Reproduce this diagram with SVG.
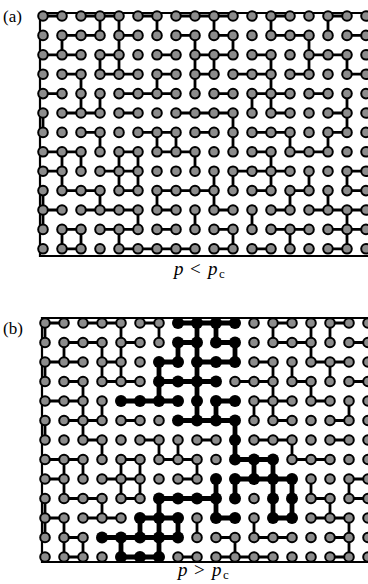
<svg xmlns="http://www.w3.org/2000/svg" xmlns:xlink="http://www.w3.org/1999/xlink" width="368" height="584" viewBox="0 0 368 584">
<style>
.frame{fill:none;stroke:#000;stroke-width:2.2}
.bond{fill:none;stroke:#000;stroke-width:2.8}
.bold{fill:none;stroke:#000;stroke-width:4.8;stroke-linecap:round}
.gn{fill:#8c8c8c;stroke:#000;stroke-width:2}
.lab{font-family:"Liberation Serif","Times New Roman",serif;fill:#000}
</style>
<defs>
<circle id="g" r="4.8" class="gn"/>
<circle id="k" r="6" fill="#000"/>
</defs>
<rect width="368" height="584" fill="#fff"/>
<text class="lab" x="3" y="22" font-size="17">(a)</text>
<text class="lab" x="3" y="334" font-size="17">(b)</text>
<text class="lab" font-size="19" y="275"><tspan x="174" font-style="italic">p</tspan><tspan x="190">&lt;</tspan><tspan x="208" font-style="italic">p</tspan><tspan x="219" dy="3" font-size="13">c</tspan></text>
<text class="lab" font-size="19" y="576"><tspan x="178" font-style="italic">p</tspan><tspan x="194">&gt;</tspan><tspan x="212" font-style="italic">p</tspan><tspan x="223" dy="3" font-size="13">c</tspan></text>

<g id="panel-a" transform="translate(43,16)">
<path class="frame" d="M330 -3H-3V240H330"/>
<g id="connectors-a">
<path class="bond" d="M0 0h19M38 0h38M95 0h19M133 0h57M228 0h19M285 0h19M19 19.4h38M76 19.4h19M133 19.4h19M171 19.4h19M228 19.4h38M304 19.4h19M0 38.8h38M57 38.8h19M114 38.8h19M152 38.8h38M209 38.8h19M266 38.8h38M19 58.2h19M57 58.2h38M114 58.2h19M152 58.2h19M190 58.2h38M247 58.2h19M304 58.2h19M0 77.6h19M76 77.6h57M171 77.6h19M209 77.6h38M266 77.6h19M19 97h38M76 97h19M133 97h57M228 97h19M285 97h19M38 116.4h19M95 116.4h38M152 116.4h19M209 116.4h38M285 116.4h19M0 135.8h38M76 135.8h19M114 135.8h38M209 135.8h19M247 135.8h38M0 155.2h19M57 155.2h38M190 155.2h57M304 155.2h19M19 174.6h38M76 174.6h19M114 174.6h57M209 174.6h19M247 174.6h19M304 174.6h19M0 194h19M38 194h57M114 194h19M171 194h19M228 194h19M266 194h57M19 213.4h19M57 213.4h38M114 213.4h19M171 213.4h19M228 213.4h38M285 213.4h38M19 232.8h19M76 232.8h76M171 232.8h19M209 232.8h19M285 232.8h19"/>
<path class="bond" d="M57 0v19.4M76 0v19.4M114 0v19.4M171 0v19.4M228 0v19.4M285 0v19.4M19 19.4v19.4M76 19.4v19.4M152 19.4v19.4M190 19.4v19.4M266 19.4v19.4M57 38.8v19.4M76 38.8v19.4M152 38.8v19.4M171 38.8v19.4M228 38.8v19.4M266 38.8v19.4M304 38.8v19.4M38 58.2v19.4M114 58.2v19.4M152 58.2v19.4M228 58.2v19.4M38 77.6v19.4M57 77.6v19.4M209 77.6v19.4M228 77.6v19.4M304 77.6v19.4M0 97v19.4M190 97v19.4M304 97v19.4M57 116.4v19.4M114 116.4v19.4M133 116.4v19.4M190 116.4v19.4M247 116.4v19.4M285 116.4v19.4M19 135.8v19.4M38 135.8v19.4M76 135.8v19.4M95 135.8v19.4M152 135.8v19.4M228 135.8v19.4M19 155.2v19.4M76 155.2v19.4M95 155.2v19.4M171 155.2v19.4M190 155.2v19.4M228 155.2v19.4M266 155.2v19.4M304 155.2v19.4M0 174.6v19.4M57 174.6v19.4M114 174.6v19.4M171 174.6v19.4M247 174.6v19.4M285 174.6v19.4M0 194v19.4M95 194v19.4M152 194v19.4M209 194v19.4M304 194v19.4M19 213.4v19.4M38 213.4v19.4M76 213.4v19.4M190 213.4v19.4M247 213.4v19.4M304 213.4v19.4"/>
</g>
<g id="nodes-a">
<use id="a0c0" href="#g" x="0" y="0"/><use id="a0c1" href="#g" x="19" y="0"/><use id="a0c2" href="#g" x="38" y="0"/><use id="a0c3" href="#g" x="57" y="0"/><use id="a0c4" href="#g" x="76" y="0"/><use id="a0c5" href="#g" x="95" y="0"/><use id="a0c6" href="#g" x="114" y="0"/><use id="a0c7" href="#g" x="133" y="0"/><use id="a0c8" href="#g" x="152" y="0"/><use id="a0c9" href="#g" x="171" y="0"/><use id="a0c10" href="#g" x="190" y="0"/><use id="a0c11" href="#g" x="209" y="0"/><use id="a0c12" href="#g" x="228" y="0"/><use id="a0c13" href="#g" x="247" y="0"/><use id="a0c14" href="#g" x="266" y="0"/><use id="a0c15" href="#g" x="285" y="0"/><use id="a0c16" href="#g" x="304" y="0"/><use id="a0c17" href="#g" x="323" y="0"/>
<use id="a1c0" href="#g" x="0" y="19.4"/><use id="a1c1" href="#g" x="19" y="19.4"/><use id="a1c2" href="#g" x="38" y="19.4"/><use id="a1c3" href="#g" x="57" y="19.4"/><use id="a1c4" href="#g" x="76" y="19.4"/><use id="a1c5" href="#g" x="95" y="19.4"/><use id="a1c6" href="#g" x="114" y="19.4"/><use id="a1c7" href="#g" x="133" y="19.4"/><use id="a1c8" href="#g" x="152" y="19.4"/><use id="a1c9" href="#g" x="171" y="19.4"/><use id="a1c10" href="#g" x="190" y="19.4"/><use id="a1c11" href="#g" x="209" y="19.4"/><use id="a1c12" href="#g" x="228" y="19.4"/><use id="a1c13" href="#g" x="247" y="19.4"/><use id="a1c14" href="#g" x="266" y="19.4"/><use id="a1c15" href="#g" x="285" y="19.4"/><use id="a1c16" href="#g" x="304" y="19.4"/><use id="a1c17" href="#g" x="323" y="19.4"/>
<use id="a2c0" href="#g" x="0" y="38.8"/><use id="a2c1" href="#g" x="19" y="38.8"/><use id="a2c2" href="#g" x="38" y="38.8"/><use id="a2c3" href="#g" x="57" y="38.8"/><use id="a2c4" href="#g" x="76" y="38.8"/><use id="a2c5" href="#g" x="95" y="38.8"/><use id="a2c6" href="#g" x="114" y="38.8"/><use id="a2c7" href="#g" x="133" y="38.8"/><use id="a2c8" href="#g" x="152" y="38.8"/><use id="a2c9" href="#g" x="171" y="38.8"/><use id="a2c10" href="#g" x="190" y="38.8"/><use id="a2c11" href="#g" x="209" y="38.8"/><use id="a2c12" href="#g" x="228" y="38.8"/><use id="a2c13" href="#g" x="247" y="38.8"/><use id="a2c14" href="#g" x="266" y="38.8"/><use id="a2c15" href="#g" x="285" y="38.8"/><use id="a2c16" href="#g" x="304" y="38.8"/><use id="a2c17" href="#g" x="323" y="38.8"/>
<use id="a3c0" href="#g" x="0" y="58.2"/><use id="a3c1" href="#g" x="19" y="58.2"/><use id="a3c2" href="#g" x="38" y="58.2"/><use id="a3c3" href="#g" x="57" y="58.2"/><use id="a3c4" href="#g" x="76" y="58.2"/><use id="a3c5" href="#g" x="95" y="58.2"/><use id="a3c6" href="#g" x="114" y="58.2"/><use id="a3c7" href="#g" x="133" y="58.2"/><use id="a3c8" href="#g" x="152" y="58.2"/><use id="a3c9" href="#g" x="171" y="58.2"/><use id="a3c10" href="#g" x="190" y="58.2"/><use id="a3c11" href="#g" x="209" y="58.2"/><use id="a3c12" href="#g" x="228" y="58.2"/><use id="a3c13" href="#g" x="247" y="58.2"/><use id="a3c14" href="#g" x="266" y="58.2"/><use id="a3c15" href="#g" x="285" y="58.2"/><use id="a3c16" href="#g" x="304" y="58.2"/><use id="a3c17" href="#g" x="323" y="58.2"/>
<use id="a4c0" href="#g" x="0" y="77.6"/><use id="a4c1" href="#g" x="19" y="77.6"/><use id="a4c2" href="#g" x="38" y="77.6"/><use id="a4c3" href="#g" x="57" y="77.6"/><use id="a4c4" href="#g" x="76" y="77.6"/><use id="a4c5" href="#g" x="95" y="77.6"/><use id="a4c6" href="#g" x="114" y="77.6"/><use id="a4c7" href="#g" x="133" y="77.6"/><use id="a4c8" href="#g" x="152" y="77.6"/><use id="a4c9" href="#g" x="171" y="77.6"/><use id="a4c10" href="#g" x="190" y="77.6"/><use id="a4c11" href="#g" x="209" y="77.6"/><use id="a4c12" href="#g" x="228" y="77.6"/><use id="a4c13" href="#g" x="247" y="77.6"/><use id="a4c14" href="#g" x="266" y="77.6"/><use id="a4c15" href="#g" x="285" y="77.6"/><use id="a4c16" href="#g" x="304" y="77.6"/><use id="a4c17" href="#g" x="323" y="77.6"/>
<use id="a5c0" href="#g" x="0" y="97"/><use id="a5c1" href="#g" x="19" y="97"/><use id="a5c2" href="#g" x="38" y="97"/><use id="a5c3" href="#g" x="57" y="97"/><use id="a5c4" href="#g" x="76" y="97"/><use id="a5c5" href="#g" x="95" y="97"/><use id="a5c6" href="#g" x="114" y="97"/><use id="a5c7" href="#g" x="133" y="97"/><use id="a5c8" href="#g" x="152" y="97"/><use id="a5c9" href="#g" x="171" y="97"/><use id="a5c10" href="#g" x="190" y="97"/><use id="a5c11" href="#g" x="209" y="97"/><use id="a5c12" href="#g" x="228" y="97"/><use id="a5c13" href="#g" x="247" y="97"/><use id="a5c14" href="#g" x="266" y="97"/><use id="a5c15" href="#g" x="285" y="97"/><use id="a5c16" href="#g" x="304" y="97"/><use id="a5c17" href="#g" x="323" y="97"/>
<use id="a6c0" href="#g" x="0" y="116.4"/><use id="a6c1" href="#g" x="19" y="116.4"/><use id="a6c2" href="#g" x="38" y="116.4"/><use id="a6c3" href="#g" x="57" y="116.4"/><use id="a6c4" href="#g" x="76" y="116.4"/><use id="a6c5" href="#g" x="95" y="116.4"/><use id="a6c6" href="#g" x="114" y="116.4"/><use id="a6c7" href="#g" x="133" y="116.4"/><use id="a6c8" href="#g" x="152" y="116.4"/><use id="a6c9" href="#g" x="171" y="116.4"/><use id="a6c10" href="#g" x="190" y="116.4"/><use id="a6c11" href="#g" x="209" y="116.4"/><use id="a6c12" href="#g" x="228" y="116.4"/><use id="a6c13" href="#g" x="247" y="116.4"/><use id="a6c14" href="#g" x="266" y="116.4"/><use id="a6c15" href="#g" x="285" y="116.4"/><use id="a6c16" href="#g" x="304" y="116.4"/><use id="a6c17" href="#g" x="323" y="116.4"/>
<use id="a7c0" href="#g" x="0" y="135.8"/><use id="a7c1" href="#g" x="19" y="135.8"/><use id="a7c2" href="#g" x="38" y="135.8"/><use id="a7c3" href="#g" x="57" y="135.8"/><use id="a7c4" href="#g" x="76" y="135.8"/><use id="a7c5" href="#g" x="95" y="135.8"/><use id="a7c6" href="#g" x="114" y="135.8"/><use id="a7c7" href="#g" x="133" y="135.8"/><use id="a7c8" href="#g" x="152" y="135.8"/><use id="a7c9" href="#g" x="171" y="135.8"/><use id="a7c10" href="#g" x="190" y="135.8"/><use id="a7c11" href="#g" x="209" y="135.8"/><use id="a7c12" href="#g" x="228" y="135.8"/><use id="a7c13" href="#g" x="247" y="135.8"/><use id="a7c14" href="#g" x="266" y="135.8"/><use id="a7c15" href="#g" x="285" y="135.8"/><use id="a7c16" href="#g" x="304" y="135.8"/><use id="a7c17" href="#g" x="323" y="135.8"/>
<use id="a8c0" href="#g" x="0" y="155.2"/><use id="a8c1" href="#g" x="19" y="155.2"/><use id="a8c2" href="#g" x="38" y="155.2"/><use id="a8c3" href="#g" x="57" y="155.2"/><use id="a8c4" href="#g" x="76" y="155.2"/><use id="a8c5" href="#g" x="95" y="155.2"/><use id="a8c6" href="#g" x="114" y="155.2"/><use id="a8c7" href="#g" x="133" y="155.2"/><use id="a8c8" href="#g" x="152" y="155.2"/><use id="a8c9" href="#g" x="171" y="155.2"/><use id="a8c10" href="#g" x="190" y="155.2"/><use id="a8c11" href="#g" x="209" y="155.2"/><use id="a8c12" href="#g" x="228" y="155.2"/><use id="a8c13" href="#g" x="247" y="155.2"/><use id="a8c14" href="#g" x="266" y="155.2"/><use id="a8c15" href="#g" x="285" y="155.2"/><use id="a8c16" href="#g" x="304" y="155.2"/><use id="a8c17" href="#g" x="323" y="155.2"/>
<use id="a9c0" href="#g" x="0" y="174.6"/><use id="a9c1" href="#g" x="19" y="174.6"/><use id="a9c2" href="#g" x="38" y="174.6"/><use id="a9c3" href="#g" x="57" y="174.6"/><use id="a9c4" href="#g" x="76" y="174.6"/><use id="a9c5" href="#g" x="95" y="174.6"/><use id="a9c6" href="#g" x="114" y="174.6"/><use id="a9c7" href="#g" x="133" y="174.6"/><use id="a9c8" href="#g" x="152" y="174.6"/><use id="a9c9" href="#g" x="171" y="174.6"/><use id="a9c10" href="#g" x="190" y="174.6"/><use id="a9c11" href="#g" x="209" y="174.6"/><use id="a9c12" href="#g" x="228" y="174.6"/><use id="a9c13" href="#g" x="247" y="174.6"/><use id="a9c14" href="#g" x="266" y="174.6"/><use id="a9c15" href="#g" x="285" y="174.6"/><use id="a9c16" href="#g" x="304" y="174.6"/><use id="a9c17" href="#g" x="323" y="174.6"/>
<use id="a10c0" href="#g" x="0" y="194"/><use id="a10c1" href="#g" x="19" y="194"/><use id="a10c2" href="#g" x="38" y="194"/><use id="a10c3" href="#g" x="57" y="194"/><use id="a10c4" href="#g" x="76" y="194"/><use id="a10c5" href="#g" x="95" y="194"/><use id="a10c6" href="#g" x="114" y="194"/><use id="a10c7" href="#g" x="133" y="194"/><use id="a10c8" href="#g" x="152" y="194"/><use id="a10c9" href="#g" x="171" y="194"/><use id="a10c10" href="#g" x="190" y="194"/><use id="a10c11" href="#g" x="209" y="194"/><use id="a10c12" href="#g" x="228" y="194"/><use id="a10c13" href="#g" x="247" y="194"/><use id="a10c14" href="#g" x="266" y="194"/><use id="a10c15" href="#g" x="285" y="194"/><use id="a10c16" href="#g" x="304" y="194"/><use id="a10c17" href="#g" x="323" y="194"/>
<use id="a11c0" href="#g" x="0" y="213.4"/><use id="a11c1" href="#g" x="19" y="213.4"/><use id="a11c2" href="#g" x="38" y="213.4"/><use id="a11c3" href="#g" x="57" y="213.4"/><use id="a11c4" href="#g" x="76" y="213.4"/><use id="a11c5" href="#g" x="95" y="213.4"/><use id="a11c6" href="#g" x="114" y="213.4"/><use id="a11c7" href="#g" x="133" y="213.4"/><use id="a11c8" href="#g" x="152" y="213.4"/><use id="a11c9" href="#g" x="171" y="213.4"/><use id="a11c10" href="#g" x="190" y="213.4"/><use id="a11c11" href="#g" x="209" y="213.4"/><use id="a11c12" href="#g" x="228" y="213.4"/><use id="a11c13" href="#g" x="247" y="213.4"/><use id="a11c14" href="#g" x="266" y="213.4"/><use id="a11c15" href="#g" x="285" y="213.4"/><use id="a11c16" href="#g" x="304" y="213.4"/><use id="a11c17" href="#g" x="323" y="213.4"/>
<use id="a12c0" href="#g" x="0" y="232.8"/><use id="a12c1" href="#g" x="19" y="232.8"/><use id="a12c2" href="#g" x="38" y="232.8"/><use id="a12c3" href="#g" x="57" y="232.8"/><use id="a12c4" href="#g" x="76" y="232.8"/><use id="a12c5" href="#g" x="95" y="232.8"/><use id="a12c6" href="#g" x="114" y="232.8"/><use id="a12c7" href="#g" x="133" y="232.8"/><use id="a12c8" href="#g" x="152" y="232.8"/><use id="a12c9" href="#g" x="171" y="232.8"/><use id="a12c10" href="#g" x="190" y="232.8"/><use id="a12c11" href="#g" x="209" y="232.8"/><use id="a12c12" href="#g" x="228" y="232.8"/><use id="a12c13" href="#g" x="247" y="232.8"/><use id="a12c14" href="#g" x="266" y="232.8"/><use id="a12c15" href="#g" x="285" y="232.8"/><use id="a12c16" href="#g" x="304" y="232.8"/><use id="a12c17" href="#g" x="323" y="232.8"/>
</g>
</g>

<g id="panel-b" transform="translate(45,323)">
<path class="frame" d="M330 -5H-3V239H330"/>
<g id="connectors-b">
<path class="bond" d="M0 0h19M38 0h38M95 0h19M228 0h19M285 0h19M19 19.5h38M76 19.5h19M228 19.5h38M304 19.5h19M0 39h38M57 39h19M209 39h19M266 39h38M19 58.5h19M57 58.5h38M190 58.5h38M247 58.5h19M304 58.5h19M0 78h38M209 78h38M266 78h19M19 97.5h38M76 97.5h19M228 97.5h19M285 97.5h19M38 117h19M95 117h19M152 117h19M209 117h38M285 117h19M0 136.5h38M76 136.5h19M114 136.5h38M247 136.5h38M0 156h19M57 156h38M133 156h19M304 156h19M19 175.5h38M76 175.5h19M266 175.5h19M304 175.5h19M0 195h19M38 195h38M266 195h38M19 214.5h19M171 214.5h19M209 214.5h38M285 214.5h19M19 234h19M133 234h19M171 234h57M285 234h19"/>
<path class="bond" d="M0 0v19.5M76 0v19.5M114 0v19.5M228 0v19.5M266 0v19.5M285 0v19.5M19 19.5v19.5M57 19.5v19.5M76 19.5v19.5M266 19.5v19.5M0 39v19.5M57 39v19.5M76 39v19.5M228 39v19.5M247 39v19.5M285 39v19.5M38 58.5v19.5M228 58.5v19.5M266 58.5v19.5M38 78v19.5M57 78v19.5M209 78v19.5M228 78v19.5M304 78v19.5M0 97.5v19.5M38 97.5v19.5M57 117v19.5M114 117v19.5M133 117v19.5M247 117v19.5M19 136.5v19.5M38 136.5v19.5M76 136.5v19.5M95 136.5v19.5M152 136.5v19.5M19 156v19.5M76 156v19.5M95 156v19.5M266 156v19.5M304 156v19.5M0 175.5v19.5M57 175.5v19.5M285 175.5v19.5M0 195v19.5M19 195v19.5M152 195v19.5M209 195v19.5M304 195v19.5M19 214.5v19.5M38 214.5v19.5M190 214.5v19.5M304 214.5v19.5"/>
<path class="bold" d="M133 0h57M133 19.5h19M171 19.5h19M114 39h19M152 39h38M114 58.5h57M76 78h57M171 78h19M133 97.5h57M190 136.5h38M190 156h57M114 175.5h57M95 195h38M171 195h19M228 195h19M57 214.5h76M76 234h38M152 0v97.5M171 0v19.5M171 78v19.5M133 19.5v19.5M190 19.5v19.5M114 39v39M190 97.5v39M190 156v19.5M209 136.5v19.5M228 136.5v58.5M247 156v39M171 156v39M114 175.5v58.5M133 195v19.5M95 195v19.5M76 214.5v19.5"/>
</g>
<g id="nodes-b">
<use id="b0c0" href="#g" x="0" y="0"/><use id="b0c1" href="#g" x="19" y="0"/><use id="b0c2" href="#g" x="38" y="0"/><use id="b0c3" href="#g" x="57" y="0"/><use id="b0c4" href="#g" x="76" y="0"/><use id="b0c5" href="#g" x="95" y="0"/><use id="b0c6" href="#g" x="114" y="0"/><use id="b0c7" href="#k" x="133" y="0"/><use id="b0c8" href="#k" x="152" y="0"/><use id="b0c9" href="#k" x="171" y="0"/><use id="b0c10" href="#k" x="190" y="0"/><use id="b0c11" href="#g" x="209" y="0"/><use id="b0c12" href="#g" x="228" y="0"/><use id="b0c13" href="#g" x="247" y="0"/><use id="b0c14" href="#g" x="266" y="0"/><use id="b0c15" href="#g" x="285" y="0"/><use id="b0c16" href="#g" x="304" y="0"/><use id="b0c17" href="#g" x="323" y="0"/>
<use id="b1c0" href="#g" x="0" y="19.5"/><use id="b1c1" href="#g" x="19" y="19.5"/><use id="b1c2" href="#g" x="38" y="19.5"/><use id="b1c3" href="#g" x="57" y="19.5"/><use id="b1c4" href="#g" x="76" y="19.5"/><use id="b1c5" href="#g" x="95" y="19.5"/><use id="b1c6" href="#g" x="114" y="19.5"/><use id="b1c7" href="#k" x="133" y="19.5"/><use id="b1c8" href="#k" x="152" y="19.5"/><use id="b1c9" href="#k" x="171" y="19.5"/><use id="b1c10" href="#k" x="190" y="19.5"/><use id="b1c11" href="#g" x="209" y="19.5"/><use id="b1c12" href="#g" x="228" y="19.5"/><use id="b1c13" href="#g" x="247" y="19.5"/><use id="b1c14" href="#g" x="266" y="19.5"/><use id="b1c15" href="#g" x="285" y="19.5"/><use id="b1c16" href="#g" x="304" y="19.5"/><use id="b1c17" href="#g" x="323" y="19.5"/>
<use id="b2c0" href="#g" x="0" y="39"/><use id="b2c1" href="#g" x="19" y="39"/><use id="b2c2" href="#g" x="38" y="39"/><use id="b2c3" href="#g" x="57" y="39"/><use id="b2c4" href="#g" x="76" y="39"/><use id="b2c5" href="#g" x="95" y="39"/><use id="b2c6" href="#k" x="114" y="39"/><use id="b2c7" href="#k" x="133" y="39"/><use id="b2c8" href="#k" x="152" y="39"/><use id="b2c9" href="#k" x="171" y="39"/><use id="b2c10" href="#k" x="190" y="39"/><use id="b2c11" href="#g" x="209" y="39"/><use id="b2c12" href="#g" x="228" y="39"/><use id="b2c13" href="#g" x="247" y="39"/><use id="b2c14" href="#g" x="266" y="39"/><use id="b2c15" href="#g" x="285" y="39"/><use id="b2c16" href="#g" x="304" y="39"/><use id="b2c17" href="#g" x="323" y="39"/>
<use id="b3c0" href="#g" x="0" y="58.5"/><use id="b3c1" href="#g" x="19" y="58.5"/><use id="b3c2" href="#g" x="38" y="58.5"/><use id="b3c3" href="#g" x="57" y="58.5"/><use id="b3c4" href="#g" x="76" y="58.5"/><use id="b3c5" href="#g" x="95" y="58.5"/><use id="b3c6" href="#k" x="114" y="58.5"/><use id="b3c7" href="#k" x="133" y="58.5"/><use id="b3c8" href="#k" x="152" y="58.5"/><use id="b3c9" href="#k" x="171" y="58.5"/><use id="b3c10" href="#g" x="190" y="58.5"/><use id="b3c11" href="#g" x="209" y="58.5"/><use id="b3c12" href="#g" x="228" y="58.5"/><use id="b3c13" href="#g" x="247" y="58.5"/><use id="b3c14" href="#g" x="266" y="58.5"/><use id="b3c15" href="#g" x="285" y="58.5"/><use id="b3c16" href="#g" x="304" y="58.5"/><use id="b3c17" href="#g" x="323" y="58.5"/>
<use id="b4c0" href="#g" x="0" y="78"/><use id="b4c1" href="#g" x="19" y="78"/><use id="b4c2" href="#g" x="38" y="78"/><use id="b4c3" href="#g" x="57" y="78"/><use id="b4c4" href="#k" x="76" y="78"/><use id="b4c5" href="#k" x="95" y="78"/><use id="b4c6" href="#k" x="114" y="78"/><use id="b4c7" href="#k" x="133" y="78"/><use id="b4c8" href="#k" x="152" y="78"/><use id="b4c9" href="#k" x="171" y="78"/><use id="b4c10" href="#k" x="190" y="78"/><use id="b4c11" href="#g" x="209" y="78"/><use id="b4c12" href="#g" x="228" y="78"/><use id="b4c13" href="#g" x="247" y="78"/><use id="b4c14" href="#g" x="266" y="78"/><use id="b4c15" href="#g" x="285" y="78"/><use id="b4c16" href="#g" x="304" y="78"/><use id="b4c17" href="#g" x="323" y="78"/>
<use id="b5c0" href="#g" x="0" y="97.5"/><use id="b5c1" href="#g" x="19" y="97.5"/><use id="b5c2" href="#g" x="38" y="97.5"/><use id="b5c3" href="#g" x="57" y="97.5"/><use id="b5c4" href="#g" x="76" y="97.5"/><use id="b5c5" href="#g" x="95" y="97.5"/><use id="b5c6" href="#g" x="114" y="97.5"/><use id="b5c7" href="#k" x="133" y="97.5"/><use id="b5c8" href="#k" x="152" y="97.5"/><use id="b5c9" href="#k" x="171" y="97.5"/><use id="b5c10" href="#k" x="190" y="97.5"/><use id="b5c11" href="#g" x="209" y="97.5"/><use id="b5c12" href="#g" x="228" y="97.5"/><use id="b5c13" href="#g" x="247" y="97.5"/><use id="b5c14" href="#g" x="266" y="97.5"/><use id="b5c15" href="#g" x="285" y="97.5"/><use id="b5c16" href="#g" x="304" y="97.5"/><use id="b5c17" href="#g" x="323" y="97.5"/>
<use id="b6c0" href="#g" x="0" y="117"/><use id="b6c1" href="#g" x="19" y="117"/><use id="b6c2" href="#g" x="38" y="117"/><use id="b6c3" href="#g" x="57" y="117"/><use id="b6c4" href="#g" x="76" y="117"/><use id="b6c5" href="#g" x="95" y="117"/><use id="b6c6" href="#g" x="114" y="117"/><use id="b6c7" href="#g" x="133" y="117"/><use id="b6c8" href="#g" x="152" y="117"/><use id="b6c9" href="#g" x="171" y="117"/><use id="b6c10" href="#k" x="190" y="117"/><use id="b6c11" href="#g" x="209" y="117"/><use id="b6c12" href="#g" x="228" y="117"/><use id="b6c13" href="#g" x="247" y="117"/><use id="b6c14" href="#g" x="266" y="117"/><use id="b6c15" href="#g" x="285" y="117"/><use id="b6c16" href="#g" x="304" y="117"/><use id="b6c17" href="#g" x="323" y="117"/>
<use id="b7c0" href="#g" x="0" y="136.5"/><use id="b7c1" href="#g" x="19" y="136.5"/><use id="b7c2" href="#g" x="38" y="136.5"/><use id="b7c3" href="#g" x="57" y="136.5"/><use id="b7c4" href="#g" x="76" y="136.5"/><use id="b7c5" href="#g" x="95" y="136.5"/><use id="b7c6" href="#g" x="114" y="136.5"/><use id="b7c7" href="#g" x="133" y="136.5"/><use id="b7c8" href="#g" x="152" y="136.5"/><use id="b7c9" href="#g" x="171" y="136.5"/><use id="b7c10" href="#k" x="190" y="136.5"/><use id="b7c11" href="#k" x="209" y="136.5"/><use id="b7c12" href="#k" x="228" y="136.5"/><use id="b7c13" href="#g" x="247" y="136.5"/><use id="b7c14" href="#g" x="266" y="136.5"/><use id="b7c15" href="#g" x="285" y="136.5"/><use id="b7c16" href="#g" x="304" y="136.5"/><use id="b7c17" href="#g" x="323" y="136.5"/>
<use id="b8c0" href="#g" x="0" y="156"/><use id="b8c1" href="#g" x="19" y="156"/><use id="b8c2" href="#g" x="38" y="156"/><use id="b8c3" href="#g" x="57" y="156"/><use id="b8c4" href="#g" x="76" y="156"/><use id="b8c5" href="#g" x="95" y="156"/><use id="b8c6" href="#g" x="114" y="156"/><use id="b8c7" href="#g" x="133" y="156"/><use id="b8c8" href="#g" x="152" y="156"/><use id="b8c9" href="#k" x="171" y="156"/><use id="b8c10" href="#k" x="190" y="156"/><use id="b8c11" href="#k" x="209" y="156"/><use id="b8c12" href="#k" x="228" y="156"/><use id="b8c13" href="#k" x="247" y="156"/><use id="b8c14" href="#g" x="266" y="156"/><use id="b8c15" href="#g" x="285" y="156"/><use id="b8c16" href="#g" x="304" y="156"/><use id="b8c17" href="#g" x="323" y="156"/>
<use id="b9c0" href="#g" x="0" y="175.5"/><use id="b9c1" href="#g" x="19" y="175.5"/><use id="b9c2" href="#g" x="38" y="175.5"/><use id="b9c3" href="#g" x="57" y="175.5"/><use id="b9c4" href="#g" x="76" y="175.5"/><use id="b9c5" href="#g" x="95" y="175.5"/><use id="b9c6" href="#k" x="114" y="175.5"/><use id="b9c7" href="#k" x="133" y="175.5"/><use id="b9c8" href="#k" x="152" y="175.5"/><use id="b9c9" href="#k" x="171" y="175.5"/><use id="b9c10" href="#k" x="190" y="175.5"/><use id="b9c11" href="#g" x="209" y="175.5"/><use id="b9c12" href="#k" x="228" y="175.5"/><use id="b9c13" href="#k" x="247" y="175.5"/><use id="b9c14" href="#g" x="266" y="175.5"/><use id="b9c15" href="#g" x="285" y="175.5"/><use id="b9c16" href="#g" x="304" y="175.5"/><use id="b9c17" href="#g" x="323" y="175.5"/>
<use id="b10c0" href="#g" x="0" y="195"/><use id="b10c1" href="#g" x="19" y="195"/><use id="b10c2" href="#g" x="38" y="195"/><use id="b10c3" href="#g" x="57" y="195"/><use id="b10c4" href="#g" x="76" y="195"/><use id="b10c5" href="#k" x="95" y="195"/><use id="b10c6" href="#k" x="114" y="195"/><use id="b10c7" href="#k" x="133" y="195"/><use id="b10c8" href="#g" x="152" y="195"/><use id="b10c9" href="#k" x="171" y="195"/><use id="b10c10" href="#k" x="190" y="195"/><use id="b10c11" href="#g" x="209" y="195"/><use id="b10c12" href="#k" x="228" y="195"/><use id="b10c13" href="#k" x="247" y="195"/><use id="b10c14" href="#g" x="266" y="195"/><use id="b10c15" href="#g" x="285" y="195"/><use id="b10c16" href="#g" x="304" y="195"/><use id="b10c17" href="#g" x="323" y="195"/>
<use id="b11c0" href="#g" x="0" y="214.5"/><use id="b11c1" href="#g" x="19" y="214.5"/><use id="b11c2" href="#g" x="38" y="214.5"/><use id="b11c3" href="#k" x="57" y="214.5"/><use id="b11c4" href="#k" x="76" y="214.5"/><use id="b11c5" href="#k" x="95" y="214.5"/><use id="b11c6" href="#k" x="114" y="214.5"/><use id="b11c7" href="#k" x="133" y="214.5"/><use id="b11c8" href="#g" x="152" y="214.5"/><use id="b11c9" href="#g" x="171" y="214.5"/><use id="b11c10" href="#g" x="190" y="214.5"/><use id="b11c11" href="#g" x="209" y="214.5"/><use id="b11c12" href="#g" x="228" y="214.5"/><use id="b11c13" href="#g" x="247" y="214.5"/><use id="b11c14" href="#g" x="266" y="214.5"/><use id="b11c15" href="#g" x="285" y="214.5"/><use id="b11c16" href="#g" x="304" y="214.5"/><use id="b11c17" href="#g" x="323" y="214.5"/>
<use id="b12c0" href="#g" x="0" y="234"/><use id="b12c1" href="#g" x="19" y="234"/><use id="b12c2" href="#g" x="38" y="234"/><use id="b12c3" href="#g" x="57" y="234"/><use id="b12c4" href="#k" x="76" y="234"/><use id="b12c5" href="#k" x="95" y="234"/><use id="b12c6" href="#k" x="114" y="234"/><use id="b12c7" href="#g" x="133" y="234"/><use id="b12c8" href="#g" x="152" y="234"/><use id="b12c9" href="#g" x="171" y="234"/><use id="b12c10" href="#g" x="190" y="234"/><use id="b12c11" href="#g" x="209" y="234"/><use id="b12c12" href="#g" x="228" y="234"/><use id="b12c13" href="#g" x="247" y="234"/><use id="b12c14" href="#g" x="266" y="234"/><use id="b12c15" href="#g" x="285" y="234"/><use id="b12c16" href="#g" x="304" y="234"/><use id="b12c17" href="#g" x="323" y="234"/>
</g>
</g>
</svg>
